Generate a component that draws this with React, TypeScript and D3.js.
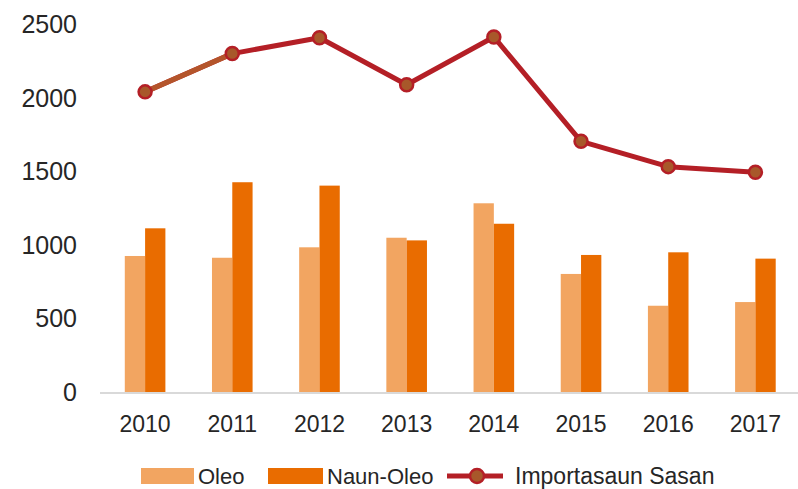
import React from 'react';
import * as d3 from 'd3';

const years = ['2010', '2011', '2012', '2013', '2014', '2015', '2016', '2017'];
const oleo = [924, 912, 983, 1048, 1282, 802, 586, 611];
const naunOleo = [1112, 1425, 1402, 1030, 1143, 931, 949, 906];
const importasaun = [2039, 2299, 2407, 2087, 2412, 1703, 1531, 1493];
const yTicks = [0, 500, 1000, 1500, 2000, 2500];

const W = 798;
const H = 489;
const font = '"Liberation Sans", Arial, sans-serif';

const cOleo = '#f2a561';
const cNaun = '#e96c00';
const cLine = '#b41f26';
const cMarker = '#a8582a';

export default function App() {
  const x = d3.scaleBand<string>().domain(years).range([101.5, 799]).padding(0);
  const bw = x.bandwidth();
  const barW = 20.3;
  const x1 = d3.scaleBand<string>()
    .domain(['oleo', 'naun'])
    .range([bw / 2 - barW, bw / 2 + barW])
    .padding(0);
  const y = d3.scaleLinear().domain([0, 2500]).range([392, 24]);

  const cx = (i: number) => (x(years[i]) ?? 0) + bw / 2;
  const line = d3.line<number>().x((_, i) => cx(i)).y(d => y(d));

  // legend row
  const ly = 476;

  return (
    <svg width={W} height={H} style={{ position: 'absolute', left: 0, top: 0, background: '#fff' }}>
      {/* y axis labels */}
      {yTicks.map(t => (
        <text key={t} x={77} y={y(t)} dy="0.36em" textAnchor="end"
          fontFamily={font} fontSize={25} fill="#262626">{t}</text>
      ))}

      {/* bars */}
      {years.map((yr, i) => (
        <g key={yr} transform={`translate(${x(yr)},0)`}>
          <rect x={x1('oleo')} y={y(oleo[i])} width={x1.bandwidth()} height={y(0) - y(oleo[i])} fill={cOleo} />
          <rect x={x1('naun')} y={y(naunOleo[i])} width={x1.bandwidth()} height={y(0) - y(naunOleo[i])} fill={cNaun} />
        </g>
      ))}

      {/* baseline */}
      <line x1={100} x2={798} y1={y(0) + 1} y2={y(0) + 1} stroke="#d9d9d9" strokeWidth={2} />

      {/* x labels */}
      {years.map((yr, i) => (
        <text key={yr} x={cx(i)} y={432} textAnchor="middle"
          fontFamily={font} fontSize={23} fill="#262626">{yr}</text>
      ))}

      {/* line series */}
      <path d={line(importasaun) ?? ''} fill="none" stroke={cLine} strokeWidth={5} strokeLinejoin="round" />
      <path d={line(importasaun.slice(0, 2)) ?? ''} fill="none" stroke="#b4552b" strokeWidth={5} />
      {importasaun.map((v, i) => (
        <circle key={i} cx={cx(i)} cy={y(v)} r={6.5} fill={cMarker} stroke={cLine} strokeWidth={2.5} />
      ))}

      {/* legend */}
      <rect x={141} y={ly - 8} width={53} height={16} fill={cOleo} />
      <text x={198} y={ly} dy="0.35em" fontFamily={font} fontSize={22} fill="#262626">Oleo</text>
      <rect x={268} y={ly - 8} width={55} height={16} fill={cNaun} />
      <text x={327} y={ly} dy="0.35em" fontFamily={font} fontSize={22} fill="#262626">Naun-Oleo</text>
      <line x1={447} x2={503} y1={ly} y2={ly} stroke={cLine} strokeWidth={5} />
      <circle cx={477} cy={ly} r={7} fill={cMarker} stroke={cLine} strokeWidth={2.5} />
      <text x={515} y={ly} dy="0.35em" fontFamily={font} fontSize={23} fill="#262626">Importasaun Sasan</text>
    </svg>
  );
}
